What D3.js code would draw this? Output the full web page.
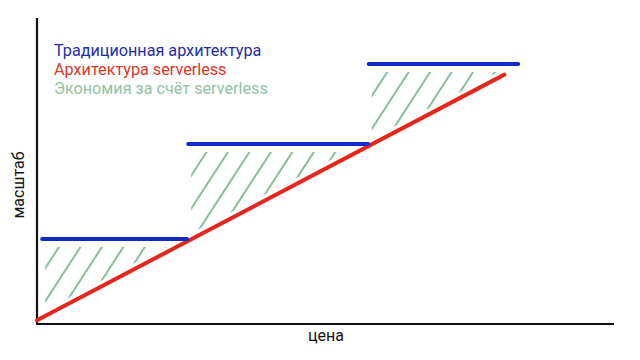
<!DOCTYPE html>
<html><head><meta charset="utf-8">
<script src="https://cdn.jsdelivr.net/npm/d3@7"></script>
<style>body{margin:0;background:#fff}svg{display:block;font-family:Roboto,"Noto Sans",sans-serif}</style>
</head><body><svg id="c" width="640" height="360"></svg>
<script>
// data (price units on x, scale units on y)
const serverlessLine = [{x:0, y:0.12},{x:8.1, y:8.15}];
const traditionalSteps = [
  {x0:0.09, x1:2.6, y:2.78},
  {x0:2.62, x1:5.74, y:5.88},
  {x0:5.75, x1:8.34, y:8.5}
];
const legendItems = ["Традиционная архитектура","Архитектура serverless","Экономия за счёт serverless"];
const axisLabels = {x:"цена", y:"масштаб"};

const svg = d3.select("#c");
const x = d3.scaleLinear().domain([0,10]).range([37,614]);
const y = d3.scaleLinear().domain([0,10]).range([324,18]);
const colors = {blue:"#1428c4", red:"#e6261c", green:"#86bf9c"};
const legendColors = ["#1f2ea8","#d5382b","#93c2a3"];

const redAt = v => serverlessLine[0].y + (serverlessLine[1].y-serverlessLine[0].y)/(serverlessLine[1].x-serverlessLine[0].x)*(v-serverlessLine[0].x);

// hatch pattern
const defs = svg.append("defs");
const pat = defs.append("pattern").attr("id","hatch").attr("patternUnits","userSpaceOnUse")
  .attr("width",18).attr("height",18).attr("patternTransform","rotate(33)");
pat.append("line").attr("x1",4).attr("y1",0).attr("x2",4).attr("y2",18)
  .attr("stroke",colors.green).attr("stroke-width",2);

// savings areas
traditionalSteps.forEach((s,i)=>{
  const n = 30, pts = [];
  for(let k=0;k<=n;k++){ const v = s.x0+(s.x1-s.x0)*k/n; pts.push([x(v)+(k===0?3:0), y(s.y)+8]); }
  for(let k=n;k>=0;k--){ const v = s.x0+(s.x1-s.x0)*k/n; const r = Math.min(redAt(v), s.y);
    pts.push([x(v)+(k===0?3:0), Math.max(y(r)-6, y(s.y)+8)]); }
  defs.append("clipPath").attr("id","cl"+i).append("path").attr("d","M"+pts.map(p=>p.join(",")).join("L")+"Z");
  svg.append("rect").attr("clip-path","url(#cl"+i+")").attr("x",x(s.x0)).attr("y",y(s.y))
    .attr("width",x(s.x1)-x(s.x0)).attr("height",y(0)-y(s.y)).attr("fill","url(#hatch)");
});

// axes
svg.append("line").attr("x1",x(0)).attr("x2",x(0)).attr("y1",y(10)).attr("y2",y(0)+1).attr("stroke","#111").attr("stroke-width",2.2);
svg.append("line").attr("x1",x(0)-1).attr("x2",x(10)).attr("y1",y(0)).attr("y2",y(0)).attr("stroke","#111").attr("stroke-width",2.2);

// red line
svg.append("path").datum(serverlessLine).attr("d",d3.line().x(d=>x(d.x)).y(d=>y(d.y)))
  .attr("stroke",colors.red).attr("stroke-width",4).attr("fill","none").attr("stroke-linecap","round");

// blue steps
svg.selectAll(".step").data(traditionalSteps).join("line").attr("class","step")
  .attr("x1",d=>x(d.x0)).attr("x2",d=>x(d.x1)).attr("y1",d=>y(d.y)).attr("y2",d=>y(d.y))
  .attr("stroke",colors.blue).attr("stroke-width",4).attr("stroke-linecap","round");

// legend
svg.selectAll(".leg").data(legendItems).join("text").attr("class","leg")
  .attr("x",54).attr("y",(d,i)=>56+i*19).attr("fill",(d,i)=>legendColors[i])
  .attr("font-size",16.2).text(d=>d);

// axis labels
svg.append("text").attr("x",326).attr("y",341).attr("text-anchor","middle").attr("font-size",16).attr("fill","#111").text(axisLabels.x);
svg.append("text").attr("transform","translate(24,185) rotate(-90)").attr("text-anchor","middle").attr("font-size",16).attr("fill","#111").text(axisLabels.y);
</script></body></html>
